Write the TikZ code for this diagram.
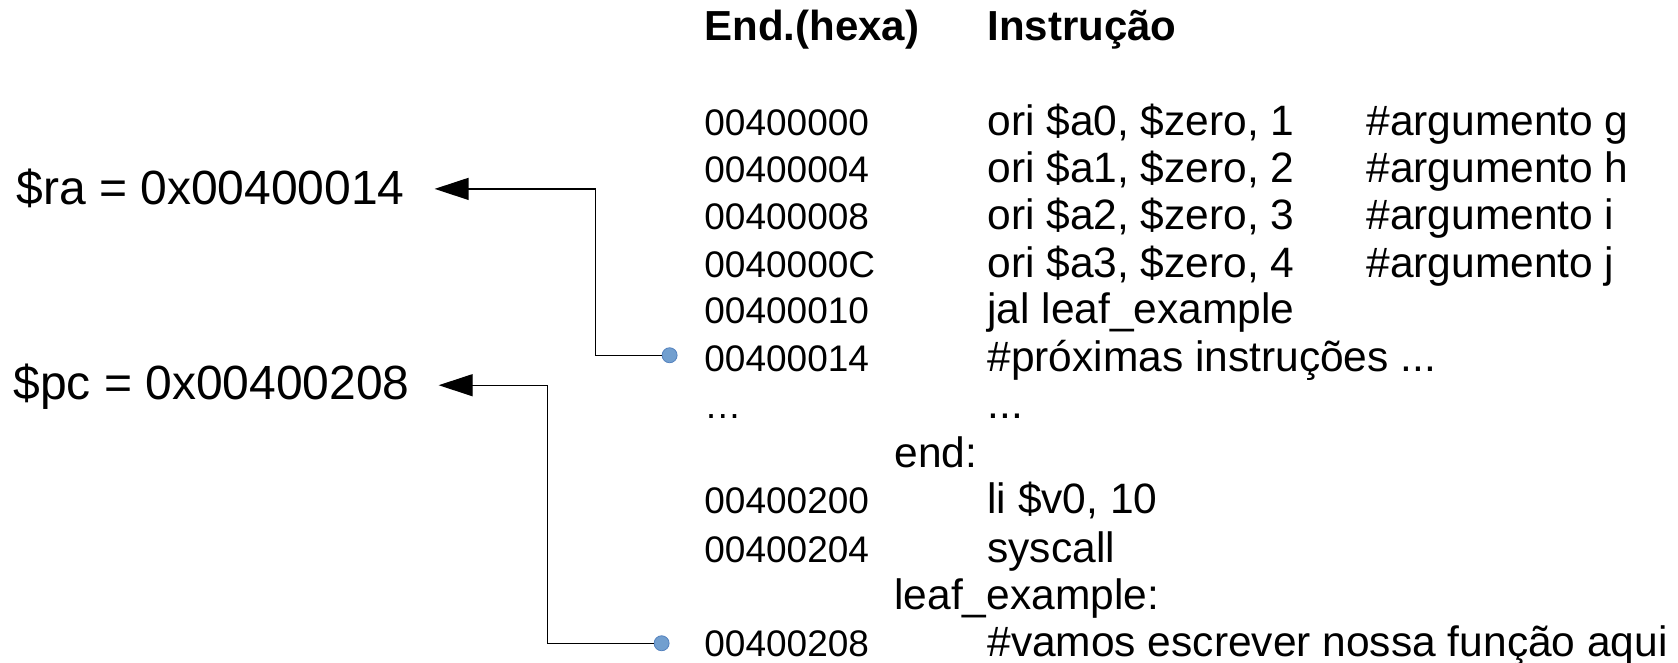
\documentclass[tikz,border=0pt]{standalone}
\usepackage{fontspec}
\setmainfont{Liberation Sans}
\usetikzlibrary{positioning,arrows.meta}
\definecolor{dotblue}{RGB}{114,159,207}
\definecolor{dotedge}{RGB}{84,130,190}

\begin{document}
\begin{tikzpicture}[x=0.5pt, y=-0.5pt,
    addr/.style={anchor=base west, inner sep=0, font=\fontsize{18.5pt}{22pt}\selectfont},
    instr/.style={anchor=base west, inner sep=0, font=\fontsize{21.25pt}{25pt}\selectfont},
    head/.style={anchor=base west, inner sep=0, font=\bfseries\fontsize{21pt}{25pt}\selectfont},
    reg/.style={anchor=base west, inner sep=0, font=\fontsize{24pt}{28pt}\selectfont},
    dot/.style={circle, fill=dotblue, draw=dotedge, line width=0.4pt, minimum size=7.5pt, inner sep=0},
    conn/.style={-{Triangle[length=17pt, width=11pt]}, line width=0.65pt}
]
\useasboundingbox (0,0) rectangle (1678,663);

% column heads
\node[head] (hend) at (704,41) {End.(hexa)};
\node[head] (hins) at (987,41) {Instrução};

% addresses
\node[addr] (a0) at (704,136) {00400000};
\node[addr] (a1) at (704,183) {00400004};
\node[addr] (a2) at (704,230) {00400008};
\node[addr] (a3) at (704,278) {0040000C};
\node[addr] (a4) at (704,324) {00400010};
\node[addr] (a5) at (704,372) {00400014};
\node[addr] (a6) at (704,419) {…};
\node[addr] (a8) at (704,514) {00400200};
\node[addr] (a9) at (704,562) {00400204};
\node[addr] (a11) at (704,656) {00400208};

% instructions
\node[instr] (i0) at (987,136) {ori \$a0, \$zero, 1};
\node[instr] (i1) at (987,183) {ori \$a1, \$zero, 2};
\node[instr] (i2) at (987,230) {ori \$a2, \$zero, 3};
\node[instr] (i3) at (987,278) {ori \$a3, \$zero, 4};
\node[instr] (i4) at (987,324) {jal leaf\_example};
\node[instr] (i5) at (987,372) {\#próximas instruções ...};
\node[instr] (i6) at (987,419) {...};
\node[instr] (lend) at (894,467) {end:};
\node[instr] (i8) at (987,514) {li \$v0, 10};
\node[instr] (i9) at (987,562) {syscall};
\node[instr] (lleaf) at (894,610) {leaf\_example:};
\node[instr] (i11) at (987,656) {\#vamos escrever nossa função aqui};

% comments
\node[instr] (c0) at (1366,136) {\#argumento g};
\node[instr] (c1) at (1366,183) {\#argumento h};
\node[instr] (c2) at (1366,230) {\#argumento i};
\node[instr] (c3) at (1366,278) {\#argumento j};

% registers
\node[reg] (ra) at (16,205) {\$ra = 0x00400014};
\node[reg] (pc) at (13,400) {\$pc = 0x00400208};

\node[dot, left=13.25pt of a5, yshift=2pt] (dotra) {};
\node[dot, left=17.25pt of a11] (dotpc) {};

\draw[conn] (dotra.west) -- ++(-66,0) |- ([xshift=14.75pt]ra.east);
\draw[conn] (dotpc.west) -- ++(-106,0) |- ([xshift=14.25pt,yshift=1pt]pc.east);
\end{tikzpicture}
\end{document}
